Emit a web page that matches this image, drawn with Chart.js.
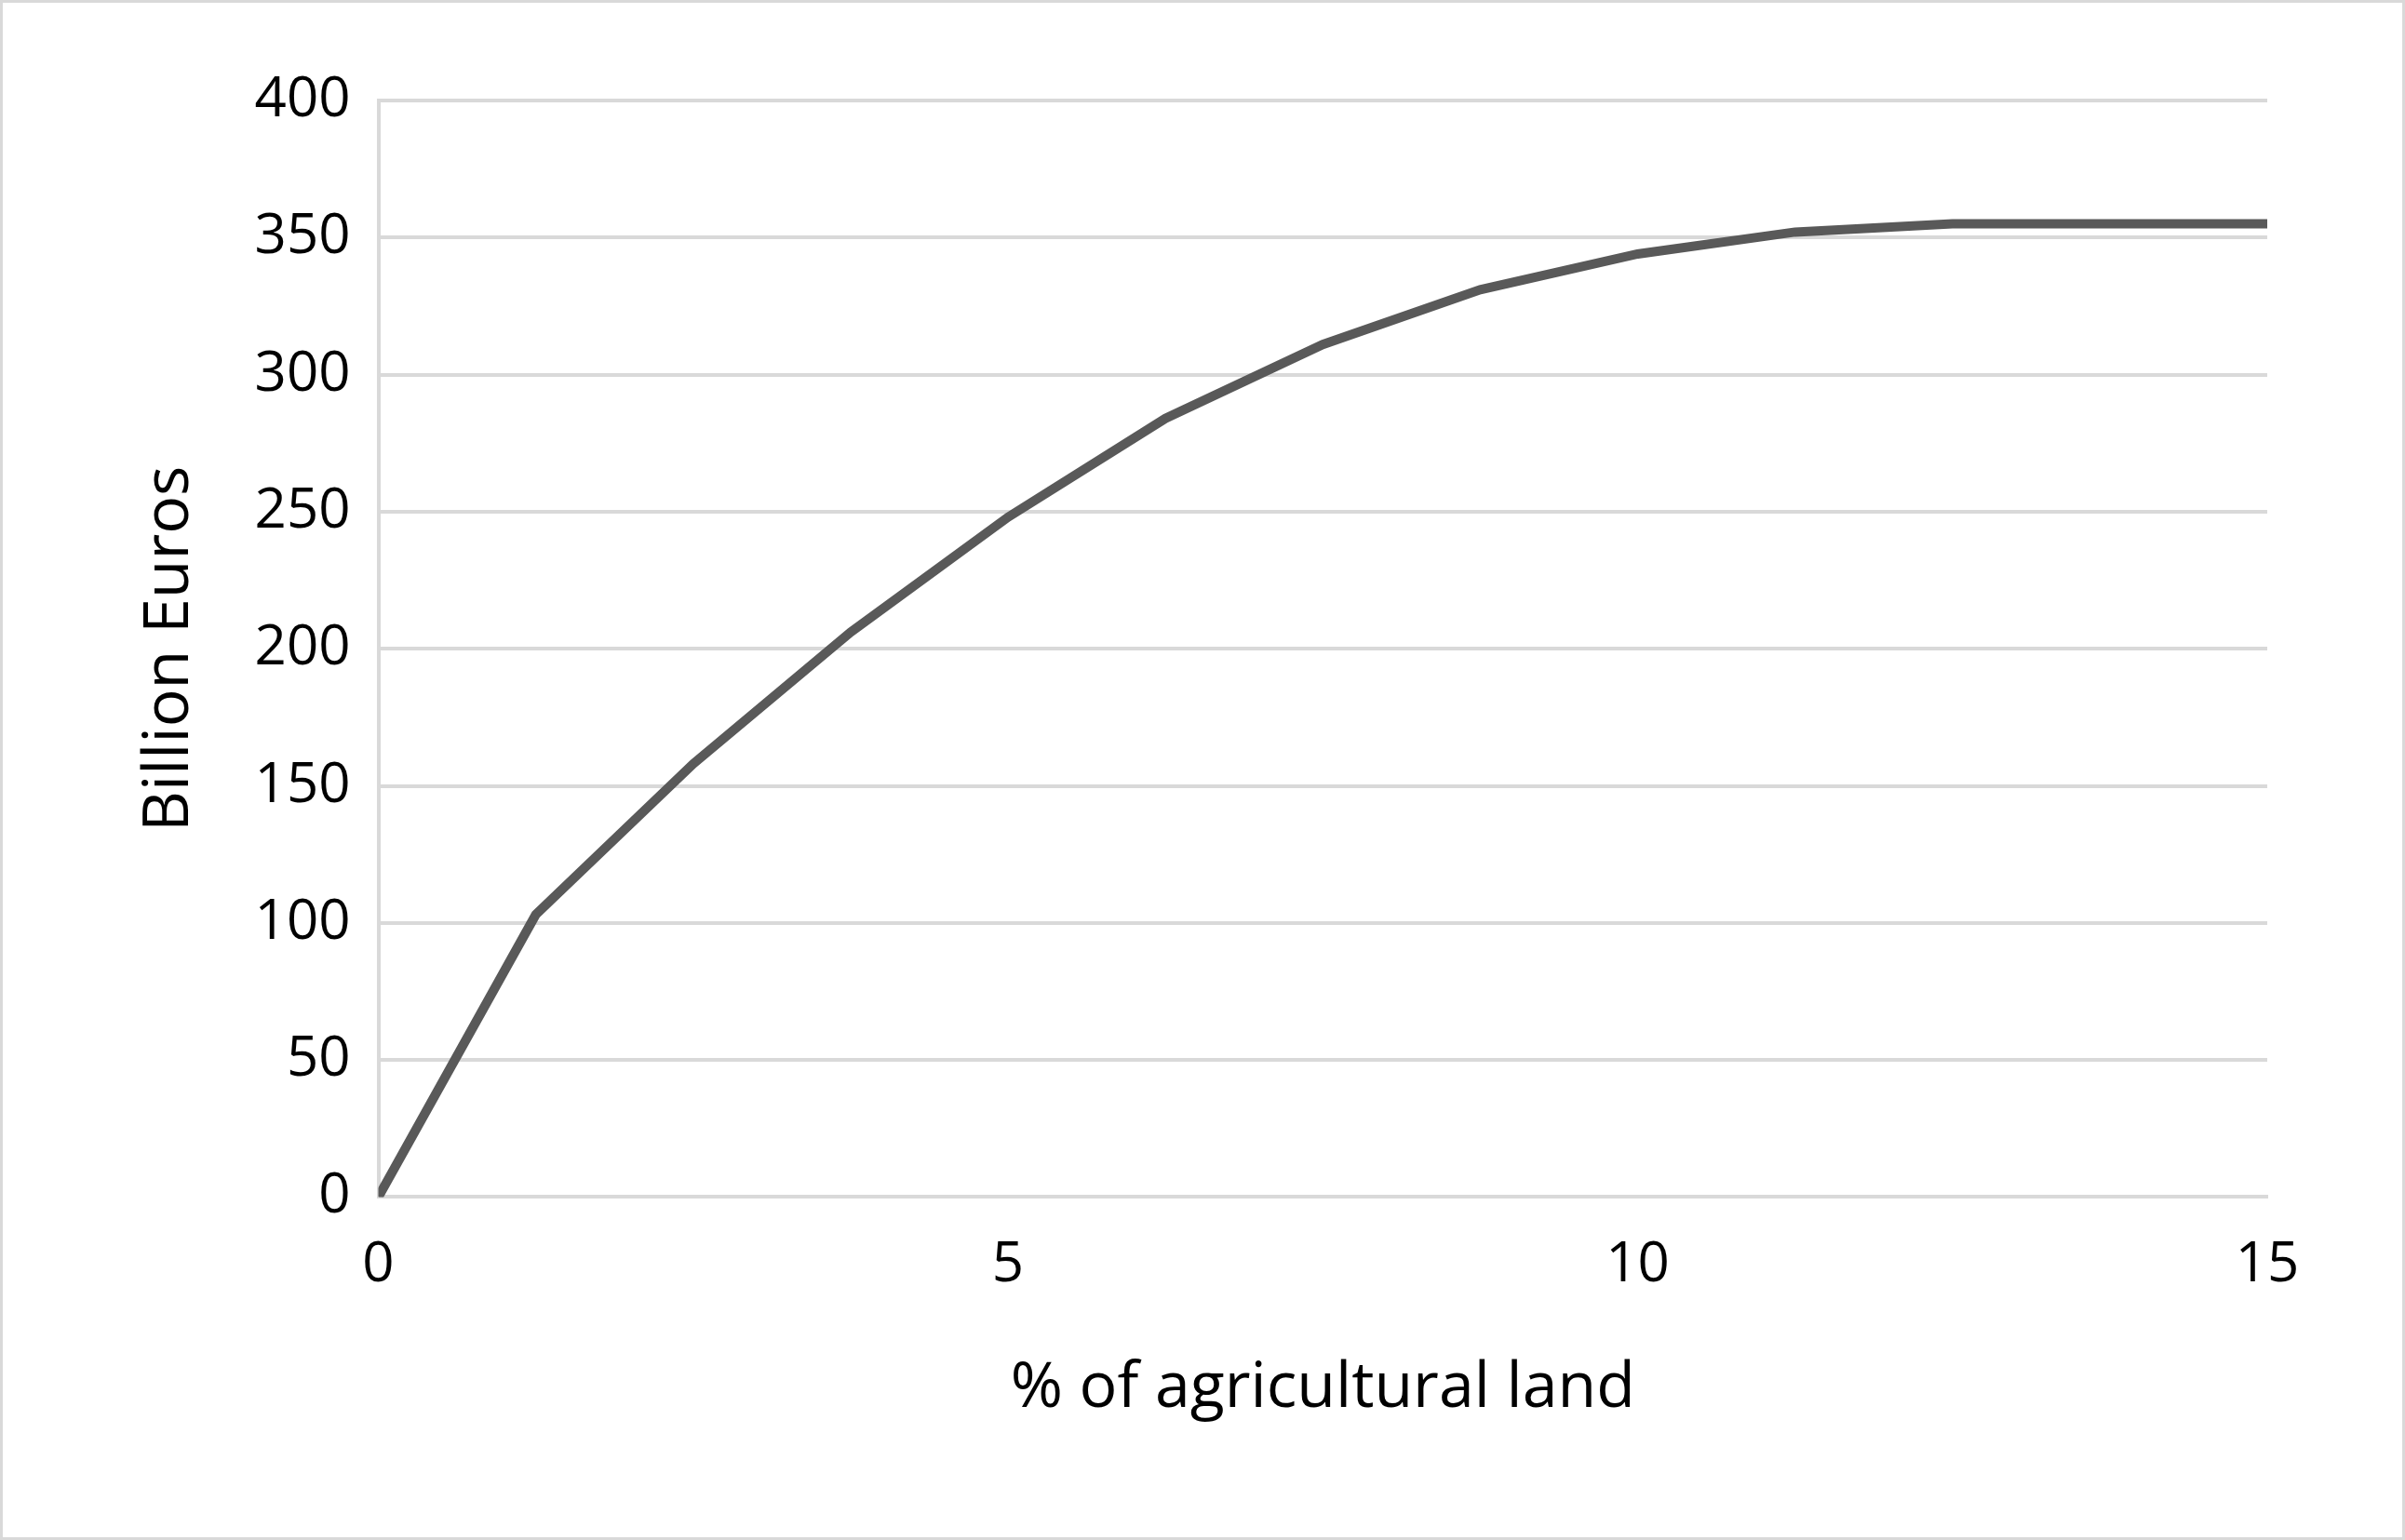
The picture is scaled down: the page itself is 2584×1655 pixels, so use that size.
<!DOCTYPE html>
<html>
<head>
<meta charset="utf-8">
<script src="https://cdn.jsdelivr.net/npm/chart.js@4"></script>
<style>
  html, body { margin: 0; padding: 0; background: #fff; }
  #wrap { width: 2584px; height: 1655px; box-sizing: border-box; border: 3px solid #d9d9d9; }
</style>
</head>
<body>
<div id="wrap"><canvas id="c" width="2578" height="1649"></canvas></div>
<script>
// % of agricultural land
const landShare = [0, 1.25, 2.5, 3.75, 5, 6.25, 7.5, 8.75, 10, 11.25, 12.5, 13.75, 15];
// Billion Euros
const value = [0, 103, 158, 206, 248, 284, 311, 331, 344, 352, 355, 355, 355];

const points = landShare.map((x, i) => ({ x: x, y: value[i] }));
const tickFont = { family: 'Open Sans, Liberation Sans, sans-serif', size: 60 };

new Chart(document.getElementById('c'), {
    type: 'line',
    data: {
        datasets: [{
            data: points,
            borderColor: '#595959',
            borderWidth: 10,
            pointRadius: 0,
            tension: 0,
            fill: false
        }]
    },
    options: {
        responsive: false,
        animation: false,
        layout: { padding: { left: 135, right: 145, top: 105, bottom: 115 } },
        plugins: { legend: { display: false }, tooltip: { enabled: false } },
        scales: {
            x: {
                type: 'linear',
                min: 0, max: 15,
                ticks: { stepSize: 5, color: '#000', font: tickFont, padding: 30 },
                grid: { display: false },
                border: { color: '#d9d9d9', width: 4 },
                title: { display: true, text: '% of agricultural land', color: '#000',
                         font: { family: tickFont.family, size: 68 }, padding: { top: 25 } }
            },
            y: {
                min: 0, max: 400,
                ticks: { stepSize: 50, color: '#000', font: tickFont, padding: 30 },
                grid: { color: '#d9d9d9', lineWidth: 4, drawTicks: false },
                border: { color: '#d9d9d9', width: 4 },
                title: { display: true, text: 'Billion Euros', color: '#000',
                         font: { family: tickFont.family, size: 68 }, padding: { bottom: 20 } }
            }
        }
    }
});
</script>
</body>
</html>
